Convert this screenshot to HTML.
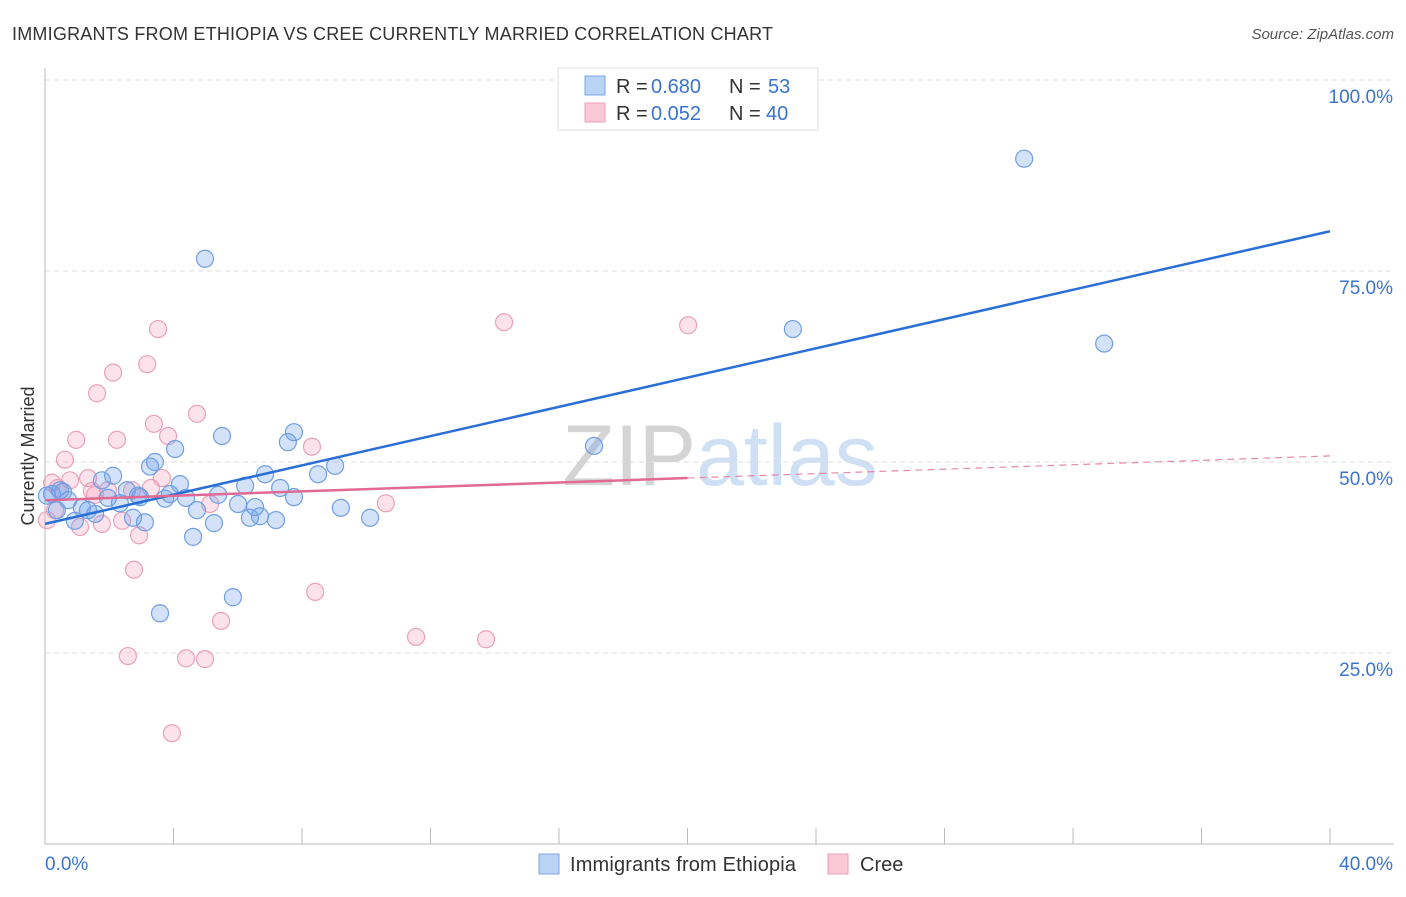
<!DOCTYPE html>
<html><head><meta charset="utf-8"><style>
body{margin:0;background:#fff;font-family:"Liberation Sans",sans-serif}
svg text{font-family:"Liberation Sans",sans-serif}
</style></head><body>
<svg id="chart" width="1406" height="892" xmlns="http://www.w3.org/2000/svg">
<text x="12" y="40" font-size="18" fill="#333" textLength="761">IMMIGRANTS FROM ETHIOPIA VS CREE CURRENTLY MARRIED CORRELATION CHART</text>
<text x="1394" y="39" font-size="15" fill="#555" text-anchor="end" font-style="italic">Source: ZipAtlas.com</text>
<text x="720" y="485" font-size="86" fill="#d8d8d8" text-anchor="middle" font-family="Liberation Serif"><tspan fill="#d4d4d4">ZIP</tspan><tspan fill="#cfe0f4" font-family="Liberation Sans">atlas</tspan></text>
<g id="grid"></g>
<g id="axes"></g>
<g id="pts"></g>
<g id="trends"></g>
<text x="34" y="456" font-size="18" fill="#333" text-anchor="middle" transform="rotate(-90 34 456)">Currently Married</text>
<g>
<rect x="558" y="68" width="260" height="62" fill="#fff" stroke="#ddd"/>
<rect x="585" y="76" width="20" height="19" fill="#b9d3f5" stroke="#7aa7e6"/>
<rect x="585" y="103" width="20" height="19" fill="#fbc8d7" stroke="#eba1b9"/>
<g font-size="20" fill="#333">
<text x="616" y="93">R =</text><text x="651" y="93" fill="#3a74d0">0.680</text><text x="729" y="93">N =</text><text x="768" y="93" fill="#3a74d0">53</text>
</g>
<g font-size="20" fill="#333">
<text x="616" y="120">R =</text><text x="651" y="120" fill="#3a74d0">0.052</text><text x="729" y="120">N =</text><text x="766" y="120" fill="#3a74d0">40</text>
</g>
</g>
<g>
<rect x="539" y="854" width="20" height="20" fill="#b9d3f5" stroke="#7aa7e6"/>
<text x="570" y="871" font-size="20" fill="#333" textLength="226">Immigrants from Ethiopia</text>
<rect x="828" y="854" width="20" height="20" fill="#fbc8d7" stroke="#eba1b9"/>
<text x="860" y="871" font-size="20" fill="#333">Cree</text>
</g>
</svg>
<script>
const blueX=[0.22,0.37,0.56,0.72,0.93,1.15,1.34,1.56,1.77,1.96,2.12,2.33,2.55,2.74,2.90,3.11,3.27,3.42,3.58,3.74,3.89,4.05,4.20,4.39,4.61,4.73,4.98,5.26,5.39,5.51,5.85,6.01,6.23,6.38,6.54,6.69,6.85,7.19,7.32,7.56,7.75,7.75,8.50,9.03,9.21,10.12,17.09,23.28,30.48,32.97,0.06,0.47,2.96];
const blueY=[45.8,43.7,46.1,45.0,42.3,44.0,43.7,43.2,47.6,45.3,48.2,44.6,46.3,42.7,45.6,42.1,49.4,50.0,30.2,45.2,45.8,51.7,47.1,45.3,40.2,43.7,76.6,42.0,45.7,53.4,32.3,44.5,46.9,42.7,44.1,42.9,48.4,42.4,46.6,52.6,53.9,45.4,48.4,49.5,44.0,42.7,52.1,67.4,89.7,65.5,45.6,46.3,45.4];
const pinkX=[0.06,0.22,0.40,0.62,0.78,0.97,1.09,1.34,1.46,1.62,1.77,1.96,2.12,2.24,2.40,2.58,2.71,2.77,2.93,3.18,3.30,3.39,3.52,3.64,3.83,3.95,4.39,4.73,4.98,5.14,5.48,8.31,8.41,10.61,11.55,13.73,14.29,20.02,0.31,1.56];
const pinkY=[42.4,47.3,46.6,50.3,47.6,52.9,41.5,47.9,46.2,59.0,41.9,46.3,61.7,52.9,42.3,24.6,46.3,35.9,40.4,62.8,46.6,55.0,67.4,47.9,53.4,14.5,24.3,56.3,24.2,44.5,29.2,52.0,33.0,44.6,27.1,26.8,68.3,67.9,43.7,45.7];
const blueTrend=[41.9,80.2];
const pinkTrend=[45.0,50.8];
const yTicks=[25,50,75,100];
const yTickLabels=["25.0%","50.0%","75.0%","100.0%"];
const xTicks=[0,4,8,12,16,20,24,28,32,36,40];
const xs=v=>45+v/40*1285, ys=v=>844-v/100*764;
const NS="http://www.w3.org/2000/svg";
function mk(p,t,a){const e=document.createElementNS(NS,t);for(const k in a)e.setAttribute(k,a[k]);document.getElementById(p).appendChild(e);return e;}
yTicks.forEach((t,i)=>{
 const l=mk('grid','line',{x1:45,x2:1394,y1:ys(t),y2:ys(t),stroke:'#ddd','stroke-dasharray':'5,4'});
 
 
 const tx=mk('grid','text',{x:1393,y:ys(t)+23,'font-size':19,fill:'#3a74d0','text-anchor':'end'});tx.textContent=yTickLabels[i];
 
 
});
let a=mk('axes','line',{x1:45,x2:45,y1:68,y2:844,stroke:'#bbb'});


a=mk('axes','line',{x1:45,x2:1394,y1:844,y2:844,stroke:'#bbb'});


xTicks.forEach(t=>{const l=mk('axes','line',{x1:xs(t),x2:xs(t),y1:828,y2:844,stroke:'#bbb'});
 
 });
let t0=mk('axes','text',{x:45,y:870,'font-size':19,fill:'#3a74d0'});t0.textContent='0.0%';


let t1=mk('axes','text',{x:1393,y:870,'font-size':19,fill:'#3a74d0','text-anchor':'end'});t1.textContent='40.0%';


pinkX.forEach((x,i)=>{const c=mk('pts','circle',{cx:xs(x),cy:ys(pinkY[i]),r:8.5,fill:'rgba(245,160,190,0.3)',stroke:'#eba1b9','stroke-width':1.2});
 
 });
blueX.forEach((x,i)=>{const c=mk('pts','circle',{cx:xs(x),cy:ys(blueY[i]),r:8.5,fill:'rgba(110,160,235,0.3)',stroke:'#6f9fe3','stroke-width':1.2});
 
 });
let b=mk('trends','line',{x1:xs(0),y1:ys(blueTrend[0]),x2:xs(40),y2:ys(blueTrend[1]),stroke:'#2a6fd6','stroke-width':2.5});


const pm=pinkTrend[0]+(pinkTrend[1]-pinkTrend[0])*0.5;
let p=mk('trends','line',{x1:xs(0),y1:ys(pinkTrend[0]),x2:xs(20),y2:ys(pm),stroke:'#e06a93','stroke-width':2.5});


let pd=mk('trends','line',{x1:xs(20),y1:ys(pm),x2:xs(40),y2:ys(pinkTrend[1]),stroke:'#e48aa8','stroke-width':1.2,'stroke-dasharray':'7,5'});


</script>
</body></html>
